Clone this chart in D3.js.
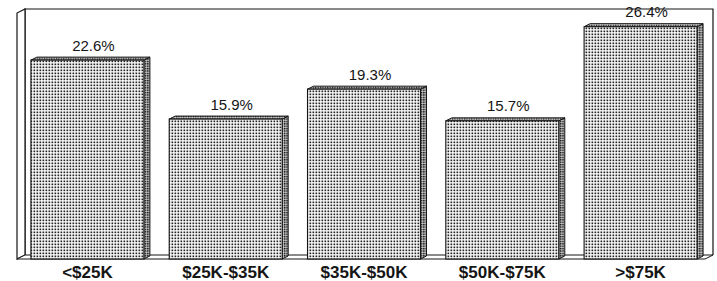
<!DOCTYPE html>
<html>
<head>
<meta charset="utf-8">
<script src="https://cdn.jsdelivr.net/npm/d3@7"></script>
<style>
  body { margin: 0; background: #fff; }
  svg { display: block; }
</style>
</head>
<body>
<svg id="chart" width="717" height="281"></svg>
<script>
// income brackets and share of households (%)
const categories = ['<$25K', '$25K-$35K', '$35K-$50K', '$50K-$75K', '>$75K'];
const shares = [22.6, 15.9, 19.3, 15.7, 26.4];
const valueLabels = ['22.6%', '15.9%', '19.3%', '15.7%', '26.4%'];

const base = 259;        // floor front edge
const dx = 6, dy = -3;   // bar depth
const wx = 8, wy = -4;   // wall depth

const svg = d3.select('#chart');
const ink = '#151515';

// halftone dot patterns
const defs = svg.append('defs');
function dots(id, size, dot, color) {
    const p = defs.append('pattern')
        .attr('id', id)
        .attr('patternUnits', 'userSpaceOnUse')
        .attr('width', size).attr('height', size);
    p.append('rect').attr('width', size).attr('height', size).attr('fill', '#fff');
    p.append('rect').attr('x', 0.5).attr('y', 0.5)
        .attr('width', dot).attr('height', dot).attr('fill', color);
}
dots('dotFront', 3, 1.7, '#222');
dots('dotSide', 2.4, 1.7, '#0d0d0d');
dots('dotTop', 2.4, 1.6, '#111');

const x = d3.scaleBand()
    .domain(categories)
    .range([24, 704])
    .paddingInner(0.183)
    .paddingOuter(0.05);

const y = d3.scaleLinear()
    .domain([0, 30])
    .range([base, -5]);

// frame: back wall, left wall and floor
const frameL = 17, frameR = 713, frameT = 9;
svg.append('path')
    .attr('d', `M${frameL + wx},${base + wy}V${frameT}H${frameR}V${base + wy}`)
    .attr('fill', 'none').attr('stroke', ink).attr('stroke-width', 1.2);
svg.append('path')
    .attr('d', `M${frameL},${base}V${frameT - wy}L${frameL + wx},${frameT}V${base + wy}Z`)
    .attr('fill', '#fff').attr('stroke', ink).attr('stroke-width', 1.2);
svg.append('path')
    .attr('d', `M${frameL},${base}L${frameL + wx},${base + wy}H${frameR}L${frameR - wx},${base}Z`)
    .attr('fill', '#fff').attr('stroke', ink).attr('stroke-width', 1);

const bw = x.bandwidth();
const bars = svg.append('g').selectAll('g.bar')
    .data(categories.map((c, i) => ({ c, v: shares[i], label: valueLabels[i] })))
    .join('g').attr('class', 'bar');

// side face
bars.append('path')
    .attr('d', d => {
        const x1 = x(d.c) + bw, t = y(d.v);
        return `M${x1},${t}L${x1 + dx},${t + dy}V${base + dy}L${x1},${base}Z`;
    })
    .attr('fill', 'url(#dotSide)').attr('stroke', ink).attr('stroke-width', 1);

// top face
bars.append('path')
    .attr('d', d => {
        const x0 = x(d.c), t = y(d.v);
        return `M${x0},${t}L${x0 + dx},${t + dy}H${x0 + bw + dx}L${x0 + bw},${t}Z`;
    })
    .attr('fill', 'url(#dotTop)').attr('stroke', ink).attr('stroke-width', 1);

// front face
bars.append('rect')
    .attr('x', d => x(d.c))
    .attr('y', d => y(d.v))
    .attr('width', bw)
    .attr('height', d => base - y(d.v))
    .attr('fill', 'url(#dotFront)').attr('stroke', ink).attr('stroke-width', 1.1);

// value labels
bars.append('text')
    .attr('x', d => x(d.c) + bw / 2 + 6)
    .attr('y', d => y(d.v) - 9.5)
    .attr('text-anchor', 'middle')
    .attr('font-family', 'Liberation Sans, Arial, sans-serif')
    .attr('font-size', 15)
    .attr('fill', ink)
    .text(d => d.label);

// category axis (no line, labels only)
const xAxis = svg.append('g')
    .attr('transform', `translate(0,${base})`)
    .call(d3.axisBottom(x).tickSize(0).tickPadding(7));
xAxis.select('.domain').remove();
xAxis.selectAll('text')
    .attr('font-family', 'Liberation Sans, Arial, sans-serif')
    .attr('font-size', 17)
    .attr('font-weight', 'bold')
    .attr('fill', ink);
</script>
</body>
</html>
